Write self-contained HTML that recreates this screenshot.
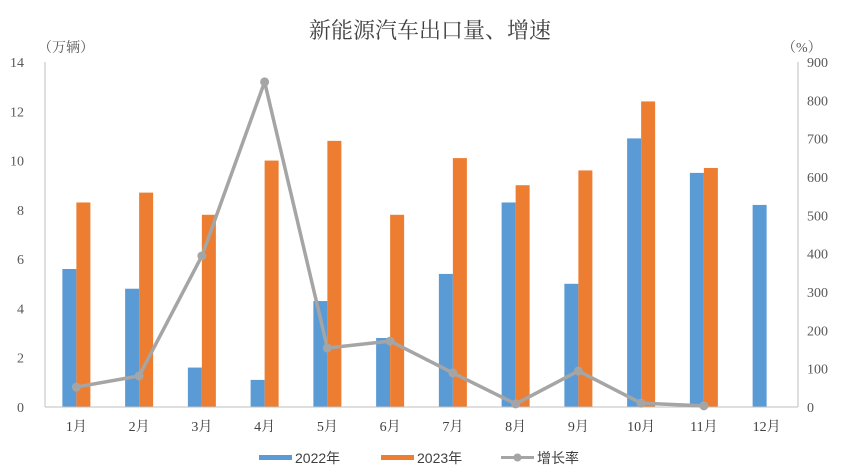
<!DOCTYPE html>
<html><head><meta charset="utf-8">
<style>
body{margin:0;background:#fff;}
svg{display:block;}
.tick{font-family:"Liberation Serif","Noto Serif CJK SC",serif;font-size:14px;fill:#595959;}
.cat{font-family:"Liberation Serif","Noto Serif CJK SC",serif;font-size:14px;fill:#404040;}
.leg{font-family:"Liberation Sans","Noto Sans CJK SC",sans-serif;font-size:14px;fill:#404040;}
</style></head>
<body>
<svg id="chart" width="852" height="473" xmlns="http://www.w3.org/2000/svg">
<text x="430" y="38" text-anchor="middle" style="font-family:'Liberation Serif','Noto Serif CJK SC',serif;font-size:22px;fill:#404040">新能源汽车出口量、增速</text>
<text x="38" y="52" class="tick">（万辆）</text>
<text x="782" y="52" class="tick">（%）</text>
<g id="bars"></g>
<g id="axes"></g>
<g id="line"></g>
<g>
<rect x="259" y="455" width="33" height="5" fill="#5b9bd5"/>
<text x="295" y="463" class="leg">2022年</text>
<rect x="381" y="455" width="33" height="5" fill="#ed7d31"/>
<text x="417" y="463" class="leg">2023年</text>
<line x1="501" y1="457.5" x2="534" y2="457.5" stroke="#a5a5a5" stroke-width="3"/>
<circle cx="517.5" cy="457.5" r="4" fill="#a5a5a5"/>
<text x="537" y="463" class="leg">增长率</text>
</g>
</svg>
<script>
const categories=["1月","2月","3月","4月","5月","6月","7月","8月","9月","10月","11月","12月"];
const values2022=[5.6,4.8,1.6,1.1,4.3,2.8,5.4,8.3,5.0,10.9,9.5,8.2];
const values2023=[8.3,8.7,7.8,10.0,10.8,7.8,10.1,9.0,9.6,12.4,9.7,null];
const growth=[52,81,394,848,154,172,89,8,94,10,3,null];
const leftTicks=[0,2,4,6,8,10,12,14];
const rightTicks=[0,100,200,300,400,500,600,700,800,900];
const NS="http://www.w3.org/2000/svg";
const X0=45,X1=798,Y0=407,Y1=62;
const bw=(X1-X0)/categories.length;
const yL=v=>Y0-(v/14)*(Y0-Y1);
const yR=v=>Y0-(v/900)*(Y0-Y1);
const xc=i=>X0+bw*(i+0.5);
function mk(tag,attrs,parent){const e=document.createElementNS(NS,tag);for(const k in attrs)e.setAttribute(k,attrs[k]);parent.appendChild(e);return e;}
const bars=document.getElementById('bars'),axes=document.getElementById('axes'),line=document.getElementById('line');
const barW=14;
categories.forEach((c,i)=>{
  if(values2022[i]!=null){const r=mk('rect',{x:xc(i)-barW,y:yL(values2022[i]),width:barW,height:Y0-yL(values2022[i]),fill:'#5b9bd5'},bars);
  
  }
  if(values2023[i]!=null){const r=mk('rect',{x:xc(i),y:yL(values2023[i]),width:barW,height:Y0-yL(values2023[i]),fill:'#ed7d31'},bars);
  
  }
  const t=mk('text',{x:xc(i),y:Y0+24,'text-anchor':'middle',class:'cat'},axes);t.textContent=c;
  
  
});
const la=mk('line',{x1:X0,y1:Y1,x2:X0,y2:Y0,stroke:'#bfbfbf','stroke-width':1},axes);


const ra=mk('line',{x1:X1,y1:Y1,x2:X1,y2:Y0,stroke:'#bfbfbf','stroke-width':1},axes);


const xa=mk('line',{x1:X0,y1:Y0,x2:X1,y2:Y0,stroke:'#bfbfbf','stroke-width':1},axes);


leftTicks.forEach(v=>{const t=mk('text',{x:24,y:yL(v)+5,'text-anchor':'end',class:'tick'},axes);t.textContent=v;
  
  });
rightTicks.forEach(v=>{const t=mk('text',{x:807,y:yR(v)+5,class:'tick'},axes);t.textContent=v;
  
  });
const pts=[];growth.forEach((v,i)=>{if(v!=null)pts.push([xc(i),yR(v)]);});
const pl=mk('polyline',{points:pts.map(p=>p.join(',')).join(' '),fill:'none',stroke:'#a5a5a5','stroke-width':3.5,'stroke-linejoin':'round'},line);


pts.forEach(p=>{const c=mk('circle',{cx:p[0],cy:p[1],r:4.5,fill:'#a5a5a5'},line);
  
  });
</script>
</body></html>
